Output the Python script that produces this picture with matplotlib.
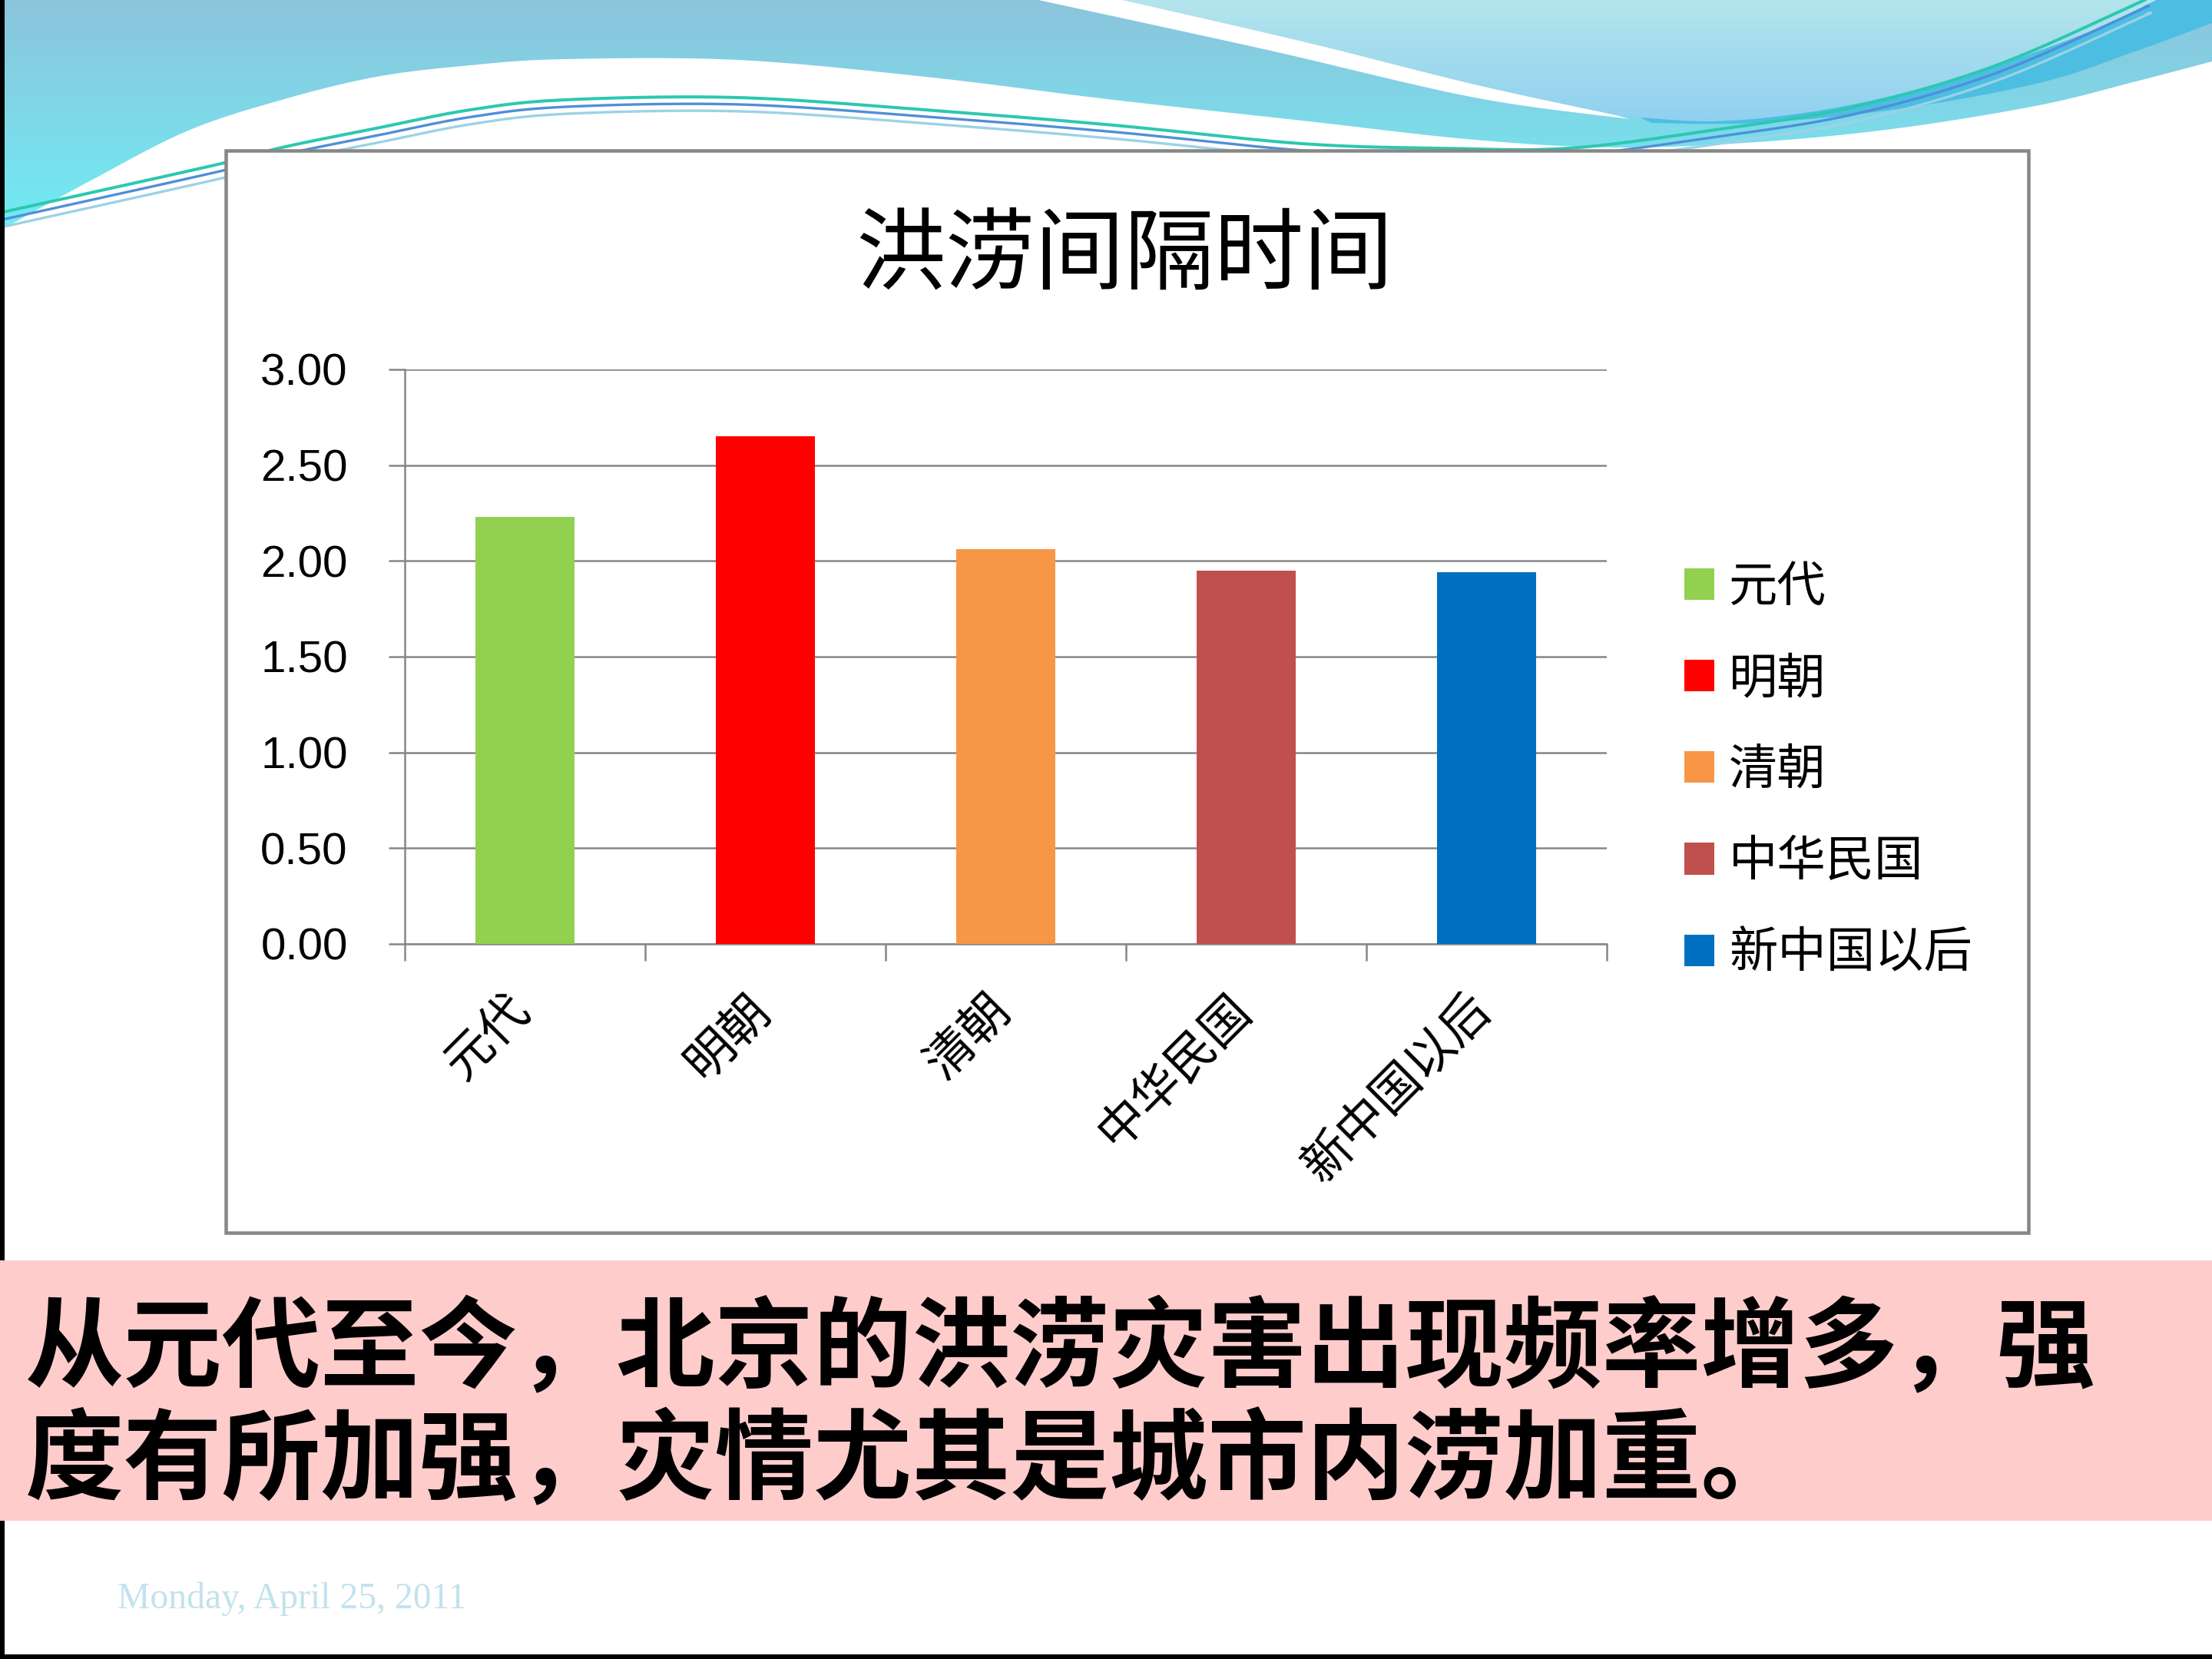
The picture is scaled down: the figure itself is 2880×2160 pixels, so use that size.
import numpy as np
import matplotlib
matplotlib.use("Agg")
import matplotlib.pyplot as plt
from matplotlib.patches import Rectangle, Polygon
from matplotlib.transforms import ScaledTranslation
from matplotlib.colors import LinearSegmentedColormap

plt.rcParams['font.family'] = ['Noto Sans CJK SC', 'DejaVu Sans']

# chart data
periods = ['元代', '明朝', '清朝', '中华民国', '新中国以后']
interval = [2.23, 2.65, 2.06, 1.95, 1.94]
bar_colors = ['#92d050', '#ff0000', '#f79646', '#c0504d', '#0070c0']
y_ticks = [0.0, 0.5, 1.0, 1.5, 2.0, 2.5, 3.0]
title = '洪涝间隔时间'
caption = ['从元代至今，北京的洪涝灾害出现频率增多，强',
           '度有所加强，灾情尤其是城市内涝加重。']
footer = 'Monday, April 25, 2011'

W, H = 2880, 2160
GRID = '#868686'


def smooth(pts, n=24):
    # catmull-rom through the control points
    p = np.array(pts, float)
    p = np.vstack([p[0], p, p[-1]])
    out = []
    t = np.linspace(0, 1, n, endpoint=False)[:, None]
    for i in range(1, len(p) - 2):
        p0, p1, p2, p3 = p[i - 1], p[i], p[i + 1], p[i + 2]
        out.append(0.5 * (2 * p1 + (-p0 + p2) * t + (2 * p0 - 5 * p1 + 4 * p2 - p3) * t ** 2
                          + (-p0 + 3 * p1 - 3 * p2 + p3) * t ** 3))
    out.append(p[-2][None])
    return np.vstack(out)


def gradient_fill(ax, verts, c_top, c_bot, y0, y1, z):
    poly = Polygon(verts, closed=True, facecolor='none', edgecolor='none')
    ax.add_patch(poly)
    cmap = LinearSegmentedColormap.from_list('g', [c_top, c_bot])
    grad = np.linspace(0, 1, 256)[:, None]
    im = ax.imshow(grad, cmap=cmap, extent=(0, W, y1, y0), aspect='auto', zorder=z,
                   interpolation='bilinear')
    im.set_clip_path(poly)


fig = plt.figure(figsize=(12, 9), dpi=240)
fig.patch.set_facecolor('white')

# slide background
bg = fig.add_axes([0, 0, 1, 1], zorder=0)
bg.set_xlim(0, W)
bg.set_ylim(H, 0)
bg.axis('off')

wave_a = smooth([(0, 300), (122, 233), (245, 170), (367, 130), (490, 100), (612, 85), (735, 77),
                 (960, 78), (1205, 100), (1450, 130), (1695, 157), (1920, 182), (2104, 192),
                 (2287, 185), (2471, 167), (2655, 137), (2777, 107), (2880, 80)])
gradient_fill(bg, np.vstack([[0, 0], wave_a, [W, 0]]), '#8cc4dc', '#70ecf4', 0, 300, 1)

b_edge = smooth([(1462, 0), (1700, 55), (1920, 110), (2104, 150)])
b_bot = smooth([(2104, 150), (2226, 158), (2349, 147), (2471, 123), (2594, 87), (2716, 43), (2808, 0)])
gradient_fill(bg, np.vstack([b_edge, b_bot]), '#b3e5ec', '#90d0f0', 0, 160, 2)

stripe_l = smooth([(1352, 0), (1650, 65), (1920, 127), (2122, 155)])
stripe_r = smooth([(1462, 0), (1700, 55), (1920, 110), (2104, 150)])
bg.add_patch(Polygon(np.vstack([stripe_l, stripe_r[::-1]]), closed=True, fc='white', ec='none', zorder=3))

band_low = smooth([(2880, 30), (2777, 68), (2655, 108), (2471, 142), (2287, 160), (2150, 160)])
bg.add_patch(Polygon(np.vstack([b_bot[8:], [[W, 0]], band_low]), closed=True,
                     fc='#4cbee2', ec='none', zorder=2))

line_path = smooth([(0, 277), (288, 213), (367, 192), (490, 167), (612, 143), (735, 130), (960, 127),
                    (1205, 143), (1450, 163), (1695, 187), (1878, 193), (2042, 193), (2226, 170),
                    (2410, 140), (2594, 87), (2777, 7), (2790, 0)])
for off, col, lw in [(0, '#2cc8b0', 1.2), (9, '#4f8fd8', 1.0), (18, '#9cd2e6', 1.0)]:
    bg.plot(line_path[:, 0] + off * 0.3, line_path[:, 1] + off, color=col, lw=lw, zorder=4,
            solid_capstyle='butt')

# slide border lines
bg.add_patch(Rectangle((0, 0), 6, H, fc='black', ec='none', zorder=5))
bg.add_patch(Rectangle((0, H - 6), W, 6, fc='black', ec='none', zorder=5))

# chart frame
bg.add_patch(Rectangle((294, 196), 2347, 1409, fc='white', ec='#878787', lw=1.35, zorder=6))

# caption band
bg.add_patch(Rectangle((0, 1641), W, 339, fc='#ffcccc', ec='none', zorder=6))

# chart
ax = fig.add_axes([527 / W, 1 - 1229 / H, 1565 / W, 748 / H], zorder=2)
ax.patch.set_alpha(0)
x = np.arange(len(periods))
bars = ax.bar(x, interval, width=0.41, color=bar_colors, zorder=3)
ax.set_xlim(-0.5, len(periods) - 0.5)
ax.set_ylim(0, 3)
ax.set_yticks(y_ticks)
ax.set_yticklabels([f'{v:.2f}' for v in y_ticks], family=['Liberation Sans', 'DejaVu Sans'],
                   fontsize=17.5)
ax.yaxis.grid(True, color=GRID, lw=0.75, zorder=1)
ax.set_axisbelow(True)
for s in ['top', 'right']:
    ax.spines[s].set_visible(False)
for s in ['left', 'bottom']:
    ax.spines[s].set_color(GRID)
    ax.spines[s].set_linewidth(0.75)
ax.tick_params(axis='y', length=6.3, width=0.75, color=GRID, pad=16)
ax.set_xticks(x)
ax.set_xticklabels(periods, rotation=45, ha='right', va='top', fontsize=19)
ax.set_xticks(np.arange(len(periods) + 1) - 0.5, minor=True)
ax.tick_params(axis='x', which='major', length=0, pad=16)
ax.tick_params(axis='x', which='minor', length=6.6, width=0.75, color=GRID)
shift = ScaledTranslation(19 / 240, 0, fig.dpi_scale_trans)
for lab in ax.get_xticklabels():
    lab.set_transform(lab.get_transform() + shift)

fig.legend(bars, periods, loc='upper left', bbox_to_anchor=(2193 / W, 1 - 733 / H), frameon=False,
           borderpad=0, borderaxespad=0, handlelength=0.62, handleheight=0.62, handletextpad=0.3,
           labelspacing=0.87, fontsize=19)

fig.text(1464 / W, 1 - 335 / H, title, ha='center', va='center', fontsize=35, zorder=7)
fig.text(33 / W, 1 - 1759 / H, caption[0], ha='left', va='center', fontsize=38.5, weight='bold', zorder=7)
fig.text(33 / W, 1 - 1905 / H, caption[1], ha='left', va='center', fontsize=38.5, weight='bold', zorder=7)
fig.text(153 / W, 1 - 2082 / H, footer, ha='left', va='center', fontsize=14.3, color='#c2e2ee',
         family=['Liberation Serif', 'DejaVu Serif'], zorder=7)

fig.savefig('out.png', dpi=240)
